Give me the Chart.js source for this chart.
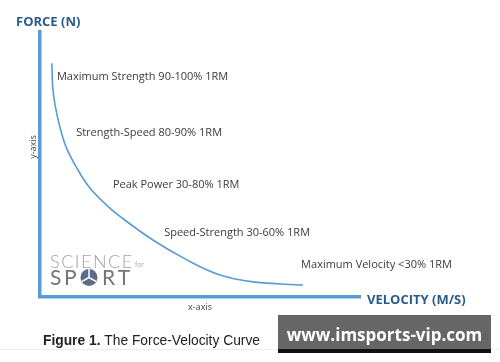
<!DOCTYPE html>
<html>
<head>
<meta charset="utf-8">
<script src="https://cdn.jsdelivr.net/npm/chart.js@4.4.0/dist/chart.umd.min.js"></script>
<style>
  html,body{margin:0;padding:0;background:#fff;}
  #wrap{width:500px;height:362px;}
</style>
</head>
<body>
<div id="wrap"><canvas id="fv" width="500" height="362"></canvas></div>
<script>
// curve (velocity, force in % of axis)
let velocity=[3.7,4.0,4.7,6.3,8.3,11.5,15.6,20.8,25.0,35.3,45.9,56.3,66.6,82.2];
let force=[88.2,78.9,72.5,63.8,56.2,48.7,41.1,34.7,30.4,21.5,14.0,8.3,5.7,4.5];

// training zones written along the curve
let zones=["Maximum Strength 90-100% 1RM","Strength-Speed 80-90% 1RM","Peak Power 30-80% 1RM","Speed-Strength 30-60% 1RM","Maximum Velocity <30% 1RM"];
let zoneX=[5.3,11.3,22.8,38.8,81.6];
let zoneY=[83.0,61.9,42.3,24.2,12.1];

let blue="#5b9bd5";
let navy="#2b5b8c";

let pts=velocity.map(function(v,i){ return {x:v,y:force[i]}; });

let extras={
    id:"extras",
    beforeDraw:function(chart){
        let c=chart.ctx;
        c.save();
        c.fillStyle="#fff";
        c.fillRect(0,0,chart.width,chart.height);
        c.restore();
    },
    afterDraw:function(chart){
        let c=chart.ctx;
        let sx=chart.scales.x, sy=chart.scales.y;
        c.save();

        // axis names
        c.fillStyle=navy;
        c.font="bold 13px 'Open Sans'";
        c.textBaseline="alphabetic";
        c.fillText("FORCE (N)",16,26);
        c.fillText("VELOCITY (M/S)",367,304);

        // y-axis tag (sits above centre in the original)
        c.save();
        c.translate(33,147);
        c.rotate(-Math.PI/2);
        c.textAlign="center";
        c.textBaseline="middle";
        c.fillStyle="#444";
        c.font="9px 'Open Sans'";
        c.fillText("y-axis",0,0);
        c.restore();

        // zone labels
        c.fillStyle="#3a3a3a";
        c.font="11px 'Open Sans'";
        c.textBaseline="middle";
        for(let i=0;i<zones.length;i++){
            c.fillText(zones[i],sx.getPixelForValue(zoneX[i]),sy.getPixelForValue(zoneY[i]));
        }

        // logo
        c.textBaseline="alphabetic";
        c.fillStyle="#a3a3a3";
        c.font="300 18px Lato";
        c.letterSpacing="1.5px";
        c.fillText("SCIENCE",50,268);
        c.letterSpacing="0px";
        c.font="7px Lato";
        c.fillStyle="#b0b0b0";
        c.fillText("for",135,267);
        c.fillStyle="#767676";
        c.font="21px Lato";
        c.letterSpacing="2.5px";
        c.fillText("SP",50,285);
        let ox=89, oy=277.5;
        c.beginPath();
        c.arc(ox,oy,8.5,0,Math.PI*2);
        c.fillStyle="#5d6b8a";
        c.fill();
        c.strokeStyle="#fff";
        c.lineWidth=1.5;
        c.beginPath();
        c.moveTo(ox,oy);c.lineTo(ox,oy-8.5);
        c.moveTo(ox,oy);c.lineTo(ox+7.4,oy+4.2);
        c.moveTo(ox,oy);c.lineTo(ox-7.4,oy+4.2);
        c.stroke();
        c.fillStyle="#767676";
        c.letterSpacing="3px";
        c.fillText("RT",102,285);
        c.letterSpacing="0px";

        // caption
        c.fillStyle="#222";
        c.font="bold 13.8px 'Liberation Sans'";
        c.fillText("Figure 1.",43,345);
        let fw=c.measureText("Figure 1. ").width;
        c.font="13.8px 'Liberation Sans'";
        c.fillText("The Force-Velocity Curve",43+fw,345);

        // faint rule + watermark
        c.fillStyle="#ececec";
        c.fillRect(0,349,500,1);
        c.fillStyle="#666";
        c.fillRect(278,315,213,34);
        c.fillStyle="#111";
        c.fillRect(278,349,213,4);
        c.fillStyle="#fff";
        c.font="bold 17px 'Open Sans'";
        c.textAlign="center";
        c.fillText("www.imsports-vip.com",384.5,341);
        c.restore();
    }
};

new Chart("fv",{
    type:"scatter",
    data:{
        datasets:[{
            data:pts,
            showLine:true,
            borderColor:blue,
            borderWidth:1.6,
            pointRadius:0,
            tension:0.4,
            fill:false
        }]
    },
    options:{
        responsive:false,
        animation:false,
        layout:{padding:{left:22,top:32,right:140,bottom:47}},
        plugins:{legend:{display:false},tooltip:{enabled:false}},
        scales:{
            x:{
                type:"linear",min:0,max:100,
                grid:{display:false,drawTicks:false},
                ticks:{display:false},
                border:{display:true,color:blue,width:3.5},
                title:{display:true,text:"x-axis",color:"#444",font:{family:"Open Sans",size:9},padding:{top:6,bottom:2}},
                afterFit:function(s){ s.height=18; }
            },
            y:{
                type:"linear",min:0,max:100,
                grid:{display:false,drawTicks:false},
                ticks:{display:false},
                border:{display:true,color:blue,width:3.5},
                afterFit:function(s){ s.width=18; }
            }
        }
    },
    plugins:[extras]
});
</script>
</body>
</html>
